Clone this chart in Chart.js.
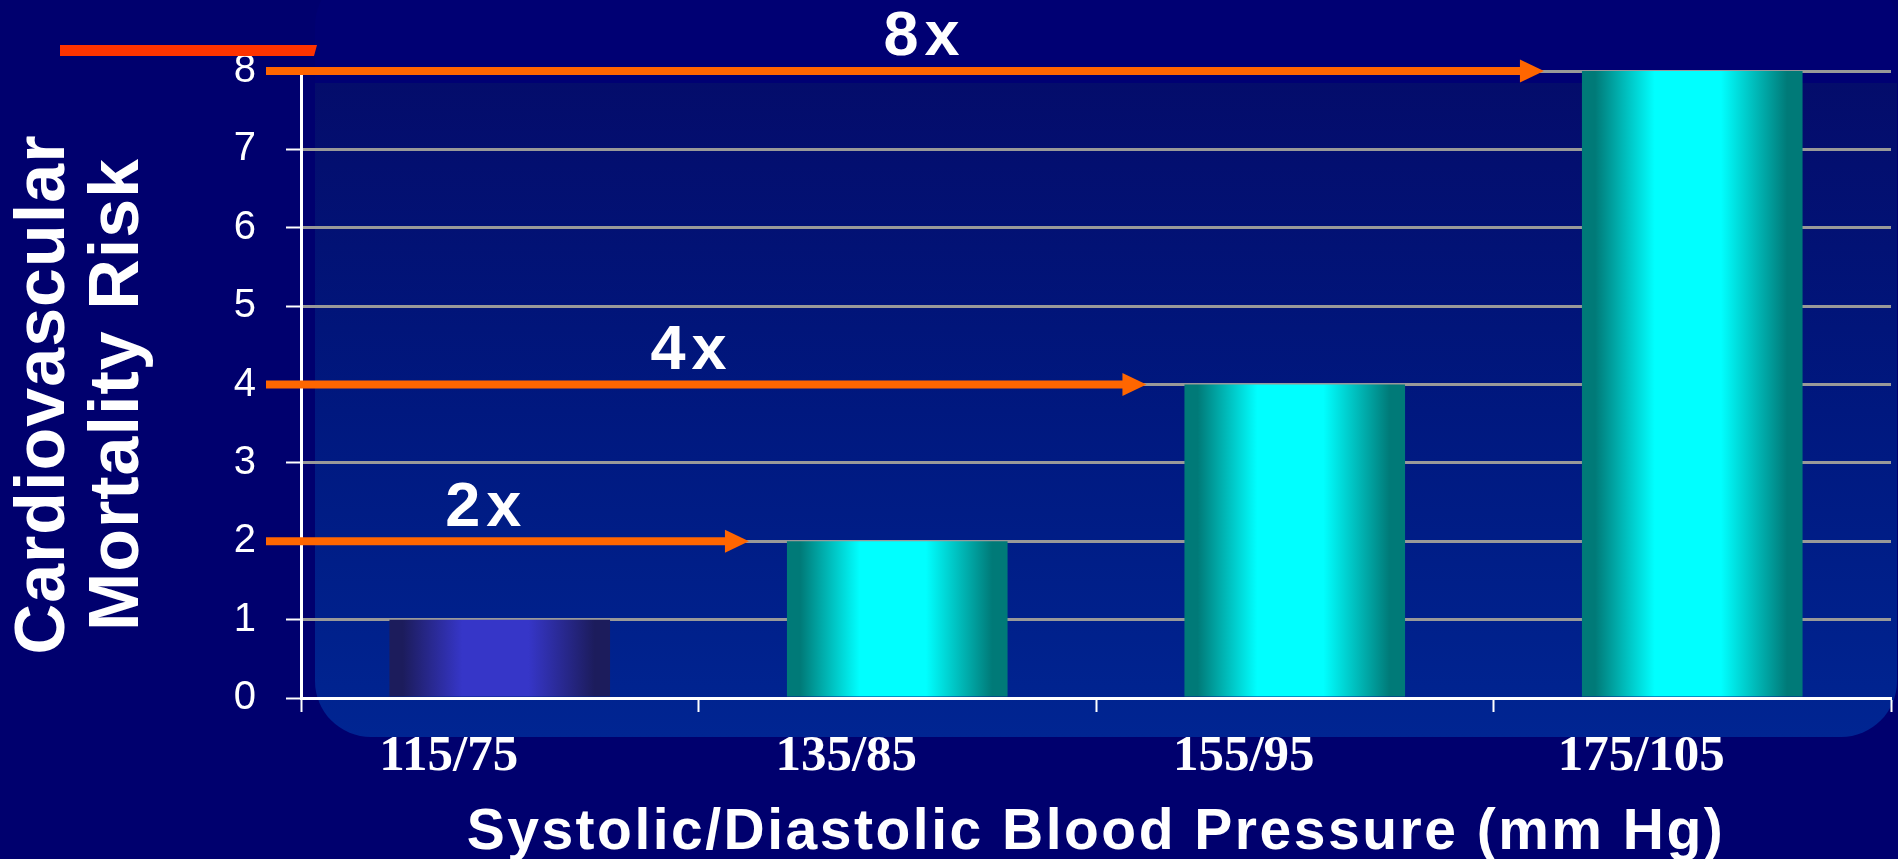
<!DOCTYPE html>
<html>
<head>
<meta charset="utf-8">
<script src="https://cdn.jsdelivr.net/npm/chart.js@4.4.1/dist/chart.umd.min.js"></script>
<style>
  html, body { margin: 0; padding: 0; background: #00006e; overflow: hidden; }
  canvas { display: block; }
</style>
</head>
<body>
<canvas id="riskChart" width="1898" height="859"></canvas>
<script>
// Blood pressure categories and relative cardiovascular mortality risk
const categories = ['115/75', '135/85', '155/95', '175/105'];
const riskValues = [1, 2, 4, 8];
const riskTicks = [0, 1, 2, 3, 4, 5, 6, 7, 8];
// Bars that get a "times baseline" arrow (compared with the first bar)
const arrowTargets = [1, 2, 3];
const yTitleLines = ['Cardiovascular', 'Mortality Risk'];
const xTitle = 'Systolic/Diastolic Blood Pressure (mm Hg)';

const BG = '#00006e';
const ORANGE = '#ff6600';
const BAR_PCT = 0.555;
// where each multiplier sits along its arrow (0 = start, 1 = tip)
const labelAlong = [0.45, 0.48, 0.513];
// [edge, centre] shades of each bar's cylinder-like gradient
const barShades = [
  ['#1c1c5c', '#3636c8'],
  ['#007a78', '#00ffff'],
  ['#007a78', '#00ffff'],
  ['#007a78', '#00ffff']
];

function barFill(context) {
  const chart = context.chart;
  const xs = chart.scales && chart.scales.x;
  const i = context.dataIndex;
  if (!chart.chartArea || !xs || i === undefined) return barShades[1][1];
  const center = xs.getPixelForValue(i);
  const half = (xs.width / categories.length) * BAR_PCT / 2;
  const g = chart.ctx.createLinearGradient(center - half, 0, center + half, 0);
  const [edge, mid] = barShades[i];
  g.addColorStop(0, edge);
  g.addColorStop(0.06, edge);
  g.addColorStop(0.33, mid);
  g.addColorStop(0.63, mid);
  g.addColorStop(0.93, edge);
  g.addColorStop(1, edge);
  return g;
}

const slideDecor = {
  id: 'slideDecor',
  beforeDraw(chart) {
    const { ctx, width, height, chartArea } = chart;
    ctx.save();
    ctx.fillStyle = BG;
    ctx.fillRect(0, 0, width, height);

    // rounded panel behind the plot
    const left = chartArea.left + 14;
    const right = width - 1;
    const top = chartArea.top + 12;
    const bottom = chartArea.bottom + 39;
    ctx.beginPath();
    ctx.roundRect(left, -30, right - left, bottom + 30, 56);
    ctx.fillStyle = '#000073';
    ctx.fill();
    ctx.clip();
    const g = ctx.createLinearGradient(0, top, 0, bottom);
    g.addColorStop(0, '#040c6b');
    g.addColorStop(0.5, '#00187f');
    g.addColorStop(1, '#002592');
    ctx.fillStyle = g;
    ctx.fillRect(left, top, right - left, bottom - top);
    ctx.restore();
  },
  afterDraw(chart) {
    const { ctx, chartArea } = chart;
    const ys = chart.scales.y;
    const meta = chart.getDatasetMeta(0);
    ctx.save();

    // red rule in the top-left corner
    ctx.fillStyle = '#ff3300';
    ctx.beginPath();
    ctx.moveTo(60, 45);
    ctx.lineTo(chartArea.left + 16, 45);
    ctx.lineTo(chartArea.left + 13, 56);
    ctx.lineTo(60, 56);
    ctx.closePath();
    ctx.fill();

    // orange arrows with the multiplier over each
    arrowTargets.forEach((i, k) => {
      const bar = meta.data[i];
      const y = ys.getPixelForValue(riskValues[i]);
      const x0 = chartArea.left - 35;
      const tip = bar.x - bar.width / 2 - 38;
      ctx.strokeStyle = ORANGE;
      ctx.lineWidth = 8;
      ctx.beginPath();
      ctx.moveTo(x0, y);
      ctx.lineTo(tip - 20, y);
      ctx.stroke();
      ctx.fillStyle = ORANGE;
      ctx.beginPath();
      ctx.moveTo(tip, y);
      ctx.lineTo(tip - 24, y - 11.5);
      ctx.lineTo(tip - 24, y + 11.5);
      ctx.closePath();
      ctx.fill();

      ctx.fillStyle = '#ffffff';
      ctx.font = 'bold 63px "Liberation Sans", Arial, sans-serif';
      ctx.letterSpacing = '6px';
      ctx.textAlign = 'center';
      ctx.textBaseline = 'middle';
      const lx = x0 + (tip - x0) * labelAlong[k] + 3;
      ctx.fillText((riskValues[i] / riskValues[0]) + 'x', lx, y - 33);
    });

    // y axis title, two rotated lines
    ctx.fillStyle = '#ffffff';
    ctx.font = 'bold 70px "Liberation Sans", Arial, sans-serif';
    ctx.letterSpacing = '1px';
    ctx.textAlign = 'center';
    ctx.textBaseline = 'alphabetic';
    const cy = (chartArea.top + chartArea.bottom) / 2 + 10;
    yTitleLines.forEach((line, k) => {
      ctx.save();
      ctx.translate(64 + k * 74, cy);
      ctx.rotate(-Math.PI / 2);
      ctx.fillText(line, 0, 0);
      ctx.restore();
    });

    // x axis title
    ctx.font = 'bold 57px "Liberation Sans", Arial, sans-serif';
    ctx.letterSpacing = '2.5px';
    ctx.textBaseline = 'middle';
    ctx.fillText(xTitle, (chartArea.left + chartArea.right) / 2, 833);
    ctx.restore();
  }
};

new Chart(document.getElementById('riskChart'), {
  type: 'bar',
  data: {
    labels: categories,
    datasets: [{
      data: riskValues,
      backgroundColor: barFill,
      borderWidth: 0,
      barPercentage: BAR_PCT,
      categoryPercentage: 1
    }]
  },
  options: {
    responsive: false,
    animation: false,
    devicePixelRatio: 1,
    layout: { padding: { top: 71, right: 7, left: 0, bottom: 0 } },
    plugins: { legend: { display: false }, tooltip: { enabled: false } },
    scales: {
      x: {
        z: 1,
        offset: true,
        grid: {
          display: true, drawOnChartArea: false, drawTicks: true, offset: true,
          tickLength: 14, tickWidth: 2, tickColor: '#ffffff'
        },
        border: { display: true, color: '#ffffff', width: 3 },
        ticks: {
          color: '#ffffff',
          font: { family: '"Liberation Serif", "Times New Roman", serif', size: 51, weight: 'bold' },
          padding: 14,
          labelOffset: -51,
          maxRotation: 0,
          autoSkip: false
        },
        afterFit(scale) { scale.height = 161; }
      },
      y: {
        min: riskTicks[0],
        max: riskTicks[riskTicks.length - 1],
        ticks: {
          stepSize: 1,
          color: '#ffffff',
          font: { family: '"Liberation Sans", Arial, sans-serif', size: 40 },
          padding: 30
        },
        grid: { color: '#999999', lineWidth: 3, tickColor: '#ffffff', tickWidth: 2, tickLength: 15 },
        border: { color: '#ffffff', width: 3 },
        afterFit(scale) { scale.width = 301; }
      }
    }
  },
  plugins: [slideDecor]
});
</script>
</body>
</html>
